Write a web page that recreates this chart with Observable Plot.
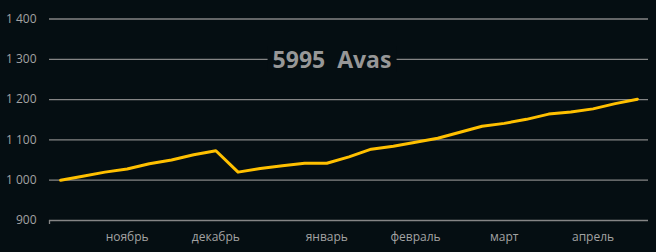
<!DOCTYPE html>
<html>
<head>
<meta charset="utf-8">
<script src="https://cdn.jsdelivr.net/npm/d3@7"></script>
<script src="https://cdn.jsdelivr.net/npm/@observablehq/plot@0.6"></script>
<style>
  html, body { margin: 0; padding: 0; background: #050e12; }
  #wrap { position: relative; width: 656px; height: 252px; overflow: hidden; }
  #title {
    position: absolute; left: 332px; top: 58.5px; transform: translate(-50%, -50%);
    font-family: "Open Sans", sans-serif; font-weight: bold; font-size: 23px;
    color: #979797; background: #050e12; padding: 0 5px; white-space: pre; line-height: 26px;
  }
</style>
</head>
<body>
<div id="wrap"><div id="title"></div></div>
<script>
const title = "5995  Avas";
const weeks = [0,1,2,3,4,5,6,7,8,9,10,11,12,13,14,15,16,17,18,19,20,21,22,23,24,25,26];
const values = [1000,1010,1020,1028,1041,1050,1063,1073,1020,1029,1036,1042,1042,1058,1077,1084,1094,1104,1119,1134,1141,1151,1164,1169,1177,1190,1201];
const monthLabels = ["ноябрь","декабрь","январь","февраль","март","апрель"];
const monthWeek = [3,7,12,16,20,24];
const yTicks = [900,1000,1100,1200,1300,1400];

const data = weeks.map((w, i) => ({week: w, value: values[i]}));
const labelOf = new Map(monthWeek.map((w, i) => [w, monthLabels[i]]));
const fmt = d => d3.format(",")(d).replace(/,/g, "\u00a0");

const chart = Plot.plot({
  width: 656,
  height: 252,
  marginLeft: 49,
  marginRight: 8,
  marginTop: 18.5,
  marginBottom: 32,
  style: {background: "#050e12", color: "#a3a3a3", fontFamily: "'Open Sans', sans-serif", fontSize: "12px"},
  x: {type: "linear", domain: [weeks[0] - 0.5, weeks[weeks.length - 1] + 0.5], label: null},
  y: {domain: [yTicks[0], yTicks[yTicks.length - 1]], label: null},
  marks: [
    Plot.ruleY(yTicks, {stroke: "#858585", strokeWidth: 1.3}),
    Plot.axisY(yTicks, {tickSize: 0, tickPadding: 13, tickFormat: fmt, fill: "#a3a3a3", fontSize: 12, label: null}),
    Plot.axisX(monthWeek, {tickSize: 0, tickPadding: 12, tickFormat: d => labelOf.get(d), fill: "#a3a3a3", fontSize: 12, label: null}),
    Plot.axisX([weeks[0] - 0.5], {tickSize: 4, tickFormat: () => "", stroke: "#858585", strokeWidth: 1.3, label: null}),
    Plot.line(data, {x: "week", y: "value", stroke: "#ffc000", strokeWidth: 3, strokeLinejoin: "round"})
  ]
});
const wrap = document.getElementById("wrap");
wrap.insertBefore(chart, wrap.firstChild);
document.getElementById("title").textContent = title;
</script>
</body>
</html>
